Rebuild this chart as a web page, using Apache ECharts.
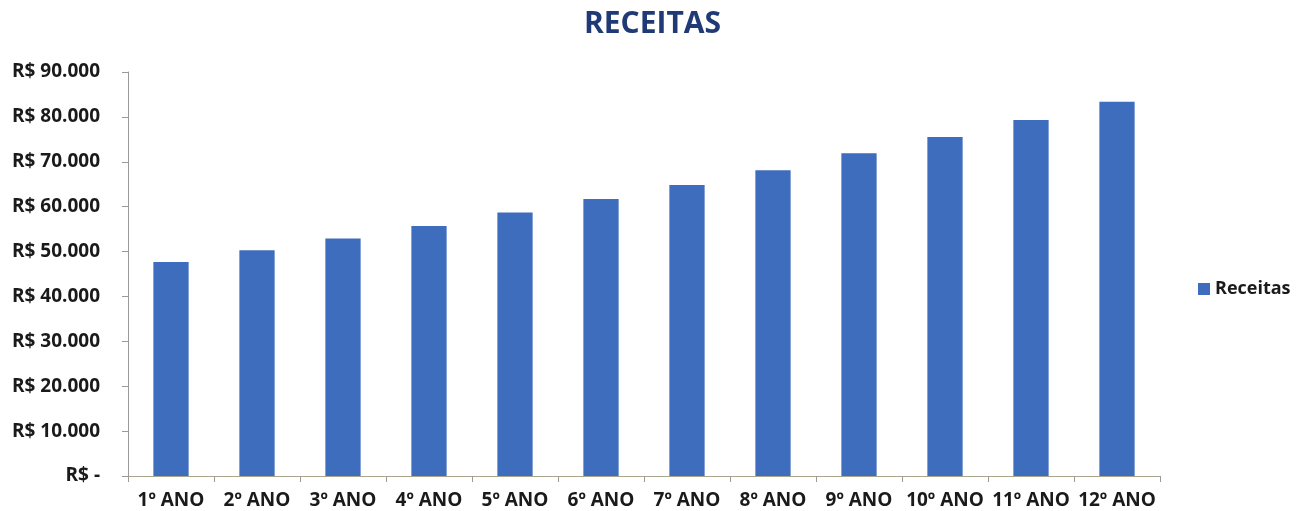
<!DOCTYPE html>
<html>
<head>
<meta charset="utf-8">
<script src="https://cdn.jsdelivr.net/npm/echarts@6/dist/echarts.min.js"></script>
<style>
  html, body { margin: 0; padding: 0; background: #ffffff; }
  #chart { width: 1305px; height: 511px; }
</style>
</head>
<body>
<div id="chart"></div>
<script>
// Receitas anuais projetadas (R$)
const categories = ['1º ANO', '2º ANO', '3º ANO', '4º ANO', '5º ANO', '6º ANO',
                    '7º ANO', '8º ANO', '9º ANO', '10º ANO', '11º ANO', '12º ANO'];
const receitas = [47700, 50300, 52900, 55700, 58700, 61700,
                  64800, 68100, 71900, 75500, 79300, 83400];
const seriesName = 'Receitas';
const chartTitle = 'RECEITAS';

const fontFamily = '"Open Sans", "Noto Sans", sans-serif';

function formatReal(v) {
  if (v === 0) return 'R$ -';
  return 'R$ ' + String(v).replace(/\B(?=(\d{3})+(?!\d))/g, '.');
}

const chart = echarts.init(document.getElementById('chart'), null, { renderer: 'canvas' });
chart.setOption({
  backgroundColor: '#ffffff',
  animation: false,
  title: {
    text: chartTitle,
    left: 'center',
    top: 4,
    textStyle: { fontFamily, fontSize: 30, fontWeight: 'bold', color: '#1f3a75' }
  },
  legend: {
    data: [seriesName],
    orient: 'vertical',
    left: 1193,
    top: 275,
    icon: 'rect',
    itemWidth: 12,
    itemHeight: 12,
    itemGap: 6,
    textStyle: { fontFamily, fontSize: 18, fontWeight: 'bold', color: '#1a1a1a' }
  },
  grid: { left: 128, right: 145, top: 72, bottom: 35, containLabel: false },
  xAxis: {
    type: 'category',
    data: categories,
    axisLine: { show: true, lineStyle: { color: '#a8a58c', width: 1 } },
    axisTick: { show: true, length: 6, lineStyle: { color: '#9a9a9a' } },
    axisLabel: {
      fontFamily, fontSize: 19, fontWeight: 'bold', color: '#1a1a1a',
      margin: 15, interval: 0
    },
    splitLine: { show: false }
  },
  yAxis: {
    type: 'value',
    min: 0,
    max: 90000,
    interval: 10000,
    axisLine: { show: true, lineStyle: { color: '#9a9a9a', width: 1 } },
    axisTick: { show: true, length: 6, lineStyle: { color: '#9a9a9a' } },
    axisLabel: {
      fontFamily, fontSize: 19, fontWeight: 'bold', color: '#1a1a1a',
      margin: 28,
      formatter: formatReal
    },
    splitLine: { show: false }
  },
  series: [{
    name: seriesName,
    type: 'bar',
    data: receitas,
    barWidth: '41%',
    itemStyle: { color: '#3e6dbe' }
  }]
});
</script>
</body>
</html>
